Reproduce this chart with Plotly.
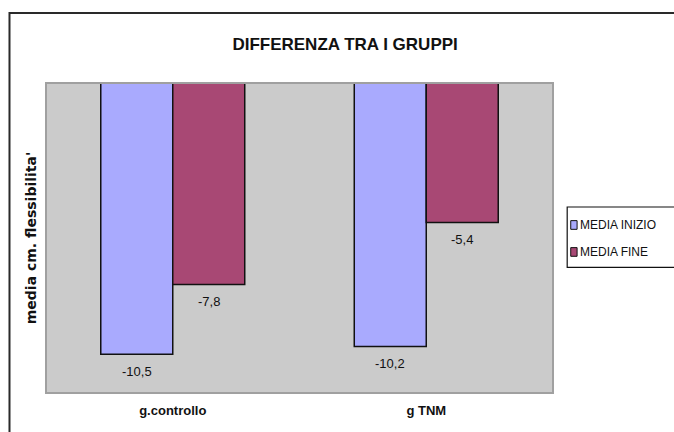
import plotly.graph_objects as go

# Chart data
groups = ["g.controllo", "g TNM"]
series_names = ["MEDIA INIZIO", "MEDIA FINE"]
media_inizio = [-10.5, -10.2]
media_fine = [-7.8, -5.4]
series_colors = ["#A9AAFE", "#A84874"]

FONT = "Liberation Sans, Arial, sans-serif"
BARGAP = 0.432
PLOT_W = 674 - 46 - 121


def fmt(v):
    return f"{v:.1f}".replace(".", ",")


fig = go.Figure()
annotations = []
bar_px = PLOT_W / len(groups) * (1 - BARGAP) / len(series_names)
for i, (name, vals, col) in enumerate(zip(series_names, [media_inizio, media_fine], series_colors)):
    fig.add_trace(go.Bar(
        x=groups, y=vals, name=name,
        marker=dict(color=col, line=dict(color="#111111", width=1.5)),
    ))
    # value labels just below the end of each bar
    shift = (i - (len(series_names) - 1) / 2) * bar_px
    for g, v in zip(groups, vals):
        annotations.append(dict(x=g, y=v, xref="x", yref="y", text=fmt(v),
                                showarrow=False, xshift=shift, yshift=-17,
                                xanchor="center", yanchor="middle",
                                font=dict(family=FONT, size=13, color="#111111")))

# Outer chart frame and plot-area border
shapes = [
    dict(type="rect", xref="paper", yref="paper", x0=-0.072, x1=1.3, y0=-0.2, y1=1.226,
         line=dict(color="#2a2a2a", width=2), layer="below"),
    dict(type="rect", xref="paper", yref="paper", x0=0, x1=1, y0=0, y1=1,
         line=dict(color="#A0A0A0", width=2)),
]

# Legend box with swatches
lx0, lx1, ly0, ly1 = 1.028, 1.3, 0.405, 0.6
shapes.append(dict(type="rect", xref="paper", yref="paper", x0=lx0, x1=lx1, y0=ly0, y1=ly1,
                   line=dict(color="#111111", width=1.2), fillcolor="white"))
item_y = [0.542, 0.455]
for name, col, yy in zip(series_names, series_colors, item_y):
    shapes.append(dict(type="rect", xref="paper", yref="paper",
                       x0=1.035, x1=1.0475, y0=yy - 0.014, y1=yy + 0.014,
                       fillcolor=col, line=dict(color="#111111", width=1)))
    annotations.append(dict(text=name, xref="paper", yref="paper", x=1.049, y=yy,
                            xanchor="left", yanchor="middle", showarrow=False,
                            font=dict(family=FONT, size=12, color="#111111")))

fig.update_layout(
    width=674, height=432,
    margin=dict(l=46, r=121, t=83, b=39),
    paper_bgcolor="white", plot_bgcolor="#CBCBCB",
    barmode="group", bargap=BARGAP, bargroupgap=0,
    showlegend=False,
    title=dict(text="<b>DIFFERENZA TRA I GRUPPI</b>", x=0.512, xanchor="center",
               y=0.898, yanchor="middle",
               font=dict(family=FONT, size=17, color="#111111")),
    xaxis=dict(showgrid=False, showline=False, ticks="", zeroline=False,
               tickfont=dict(family=FONT, size=13, color="#111111"),
               ticklabelstandoff=8, tickprefix="<b>", ticksuffix="</b>"),
    yaxis=dict(range=[-12, 0], showgrid=False, showticklabels=False, ticks="",
               zeroline=False, showline=False,
               title=dict(text="<b>media cm. flessibilita'</b>", standoff=5,
                          font=dict(family="DejaVu Sans, sans-serif", size=14,
                                    color="#111111"))),
    shapes=shapes, annotations=annotations,
)

fig.write_html("out.html")
